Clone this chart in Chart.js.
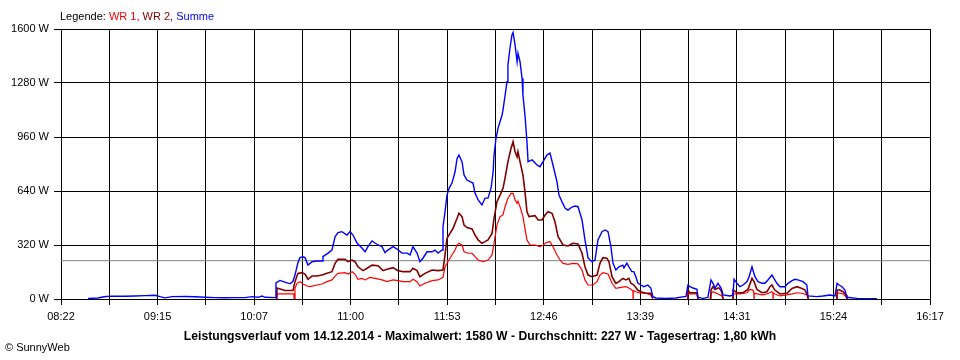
<!DOCTYPE html>
<html><head><meta charset="utf-8">
<script src="https://cdn.jsdelivr.net/npm/chart.js@4/dist/chart.umd.min.js"></script>
<style>
html,body{margin:0;padding:0;background:#fff;}
#wrap{position:relative;width:960px;height:360px;overflow:hidden;}
#c{position:absolute;left:0;top:0;}
.t{position:absolute;font-family:"Liberation Sans",Arial,sans-serif;font-size:11px;line-height:13px;white-space:nowrap;color:#000;}
</style></head><body>
<div id="wrap">
<canvas id="c" width="960" height="360"></canvas>
<div class="t" style="left:60px;top:10px;">Legende: <span style="color:#ff0000">WR 1,</span> <span style="color:#800000">WR 2,</span> <span style="color:#0000ff">Summe</span></div>
<div class="t" style="left:0;top:329px;width:960px;text-align:center;font-weight:bold;font-size:12.2px;line-height:15px;">Leistungsverlauf vom 14.12.2014 - Maximalwert: 1580 W - Durchschnitt: 227 W - Tagesertrag: 1,80 kWh</div>
<div class="t" style="left:5px;top:341px;">© SunnyWeb</div>
</div>
<script>
// x values: minutes since midnight
const xTickLabels = ['08:22','09:15','10:07','11:00','11:53','12:46','13:39','14:31','15:24','16:17'];
const xStart = 502, xEnd = 977;
const avgW = 227;

const sumTime = [
516.8,522.2,525.5,528.8,537.0,542.4,547.9,553.4,556.1,558.8,
562.7,569.8,575.2,580.7,586.2,591.6,597.1,602.6,606.4,609.7,
611.9,613.5,619.0,619.5,621.7,624.4,627.2,628.8,629.9,630.5,
631.5,632.6,634.3,635.4,637.0,639.2,641.9,644.7,645.2,648.0,
650.1,651.8,653.4,655.6,658.3,660.0,661.6,663.8,666.5,668.2,
669.8,672.0,673.6,675.3,677.5,679.1,680.7,683.5,685.7,688.4,
691.2,692.8,694.4,696.6,698.2,699.9,702.1,704.8,706.4,708.1,
710.3,710.8,711.9,713.0,714.1,715.7,717.4,718.5,719.5,721.2,
722.3,723.9,725.6,727.2,728.3,730.0,732.1,733.8,735.4,737.1,
738.2,738.7,739.8,740.9,743.1,743.6,745.8,746.3,747.4,748.5,
749.1,750.2,751.3,751.8,752.9,754.0,754.5,755.6,756.7,757.3,
759.5,762.2,763.8,765.5,767.6,769.3,770.9,773.1,774.2,775.8,
777.5,779.1,781.3,783.0,784.6,786.8,788.4,790.1,792.2,793.9,
795.5,797.7,799.4,801.0,802.6,803.7,805.3,807.0,809.1,809.7,
811.3,812.4,814.0,815.1,816.2,817.3,818.9,820.6,822.8,824.4,
825.5,827.2,832.6,838.1,842.5,843.6,844.7,845.8,847.5,849.6,
850.2,852.9,855.6,857.3,858.4,859.5,861.1,862.8,863.9,867.7,
869.3,869.9,871.5,873.1,874.8,877.0,878.1,879.7,880.2,881.3,
883.0,885.2,886.8,888.4,890.6,891.7,893.3,895.0,897.7,899.4,
901.6,903.2,904.8,907.6,909.7,910.3,915.2,918.5,922.3,925.1,
926.2,927.3,928.9,930.5,931.6,937.1,944.2,948.0];
const sumW = [
3,6,13,17,16,18,20,22,14,7,
14,15,13,10,8,7,8,8,14,10,
18,10,8,95,110,100,90,105,142,170,
215,245,250,245,201,221,225,225,251,272,
290,369,393,399,379,399,379,332,302,280,
310,344,332,320,310,275,290,310,296,272,
272,261,310,272,221,243,280,280,290,272,
290,428,517,616,656,687,754,833,853,814,
735,705,695,687,628,587,557,598,598,658,
754,853,954,1013,1090,1120,1288,1387,1486,1565,
1580,1505,1406,1456,1406,1308,1209,1090,932,814,
824,794,784,814,853,865,794,695,616,577,
539,527,545,551,547,468,350,243,221,231,
350,399,409,399,310,213,172,191,201,184,
213,191,162,162,132,95,83,73,83,65,
14,6,3,6,14,14,83,73,65,57,
10,4,10,113,93,65,93,65,24,18,
24,117,93,73,83,103,132,191,172,132,
103,93,93,113,142,122,93,73,73,93,
109,117,113,103,83,18,14,18,24,18,
93,83,73,53,10,4,2,2];

const wr2Time = [
619.9,620.1,624.4,628.8,629.9,631.5,633.7,635.4,637.0,639.2,
641.9,644.7,647.4,650.1,651.8,653.4,657.2,658.9,661.1,662.7,
664.3,667.1,669.3,672.0,675.3,678.0,680.2,683.5,686.2,689.0,
692.8,694.4,696.6,698.2,701.0,704.8,708.1,710.8,711.9,713.0,
714.6,716.3,718.5,719.5,721.2,722.3,723.9,726.7,728.3,730.0,
732.1,733.8,735.4,737.6,738.7,740.3,742.0,743.6,744.7,746.3,
748.0,749.1,750.2,751.3,751.8,752.9,754.5,755.6,756.7,757.8,
761.1,762.8,764.9,766.6,768.2,770.4,772.0,773.7,774.8,776.4,
779.1,781.8,784.6,786.8,788.4,790.1,792.2,795.0,796.6,798.2,
800.4,801.5,803.2,805.3,807.0,809.1,810.8,812.4,813.5,815.1,
817.3,818.9,821.7,824.4,825.5,825.6,844.6,844.7,845.8,849.6,
850.2,850.3,857.2,857.3,858.4,859.5,861.1,861.7,862.8,863.3,
863.9,864.0,869.3,869.4,871.5,874.8,877.5,879.7,880.8,882.4,
885.2,887.9,889.5,890.6,892.2,895.0,898.8,901.6,904.3,907.0,
908.7,910.3,910.4,910.5,926.1,926.2,927.3,929.5,931.1,931.6];
const wr2W = [
0,65,50,50,103,152,156,148,117,136,
136,142,152,162,211,235,235,221,231,221,
191,168,182,201,197,168,176,186,168,162,
162,182,168,132,152,172,168,172,261,360,
389,419,478,508,488,438,423,415,379,350,
330,340,350,389,478,577,616,656,715,814,
893,932,873,843,873,814,735,636,517,488,
494,468,468,498,517,508,458,369,350,320,
314,330,326,271,191,142,132,142,211,245,
241,221,132,93,103,122,113,122,93,83,
53,43,34,34,4,null,0,53,37,37,
0,null,0,53,73,57,65,65,50,34,
0,null,0,53,37,37,57,122,103,57,
37,43,73,83,53,30,34,63,73,63,
53,14,0,null,0,53,55,43,24,0];

const wr1Time = [
620.0,620.1,628.8,629.3,629.4,629.9,631.0,632.6,634.3,636.5,
638.1,641.9,644.7,647.4,650.1,651.8,653.4,657.2,658.9,661.1,
662.7,664.3,666.5,668.2,670.9,673.6,677.5,680.2,683.5,686.2,
689.0,692.8,694.4,696.6,698.2,701.0,704.8,708.1,710.8,711.9,
713.5,715.7,717.4,718.5,719.5,721.2,722.3,724.5,726.7,728.3,
730.0,732.7,735.4,737.6,738.7,740.3,742.0,743.6,744.7,746.3,
748.0,749.1,750.2,751.3,751.8,752.9,754.5,755.6,756.7,758.4,
761.1,763.8,765.5,767.6,769.3,770.9,773.1,774.8,776.4,779.1,
781.8,784.6,786.8,788.4,790.1,792.8,795.0,796.6,798.2,801.0,
803.2,805.3,808.1,810.8,812.4,814.6,814.7,814.8,816.2,818.9,
821.7,824.4,825.5,825.6,844.6,844.7,849.6,850.2,850.3,856.7,
857.3,858.4,861.1,863.3,863.9,864.0,869.3,869.4,873.1,877.0,
878.6,880.2,880.7,880.8,880.9,882.4,885.2,887.9,890.6,891.1,
891.2,891.3,892.2,895.0,898.8,901.6,904.3,907.0,909.7,910.3,
910.4,926.2,926.3,929.5,931.1,931.6];
const wr1W = [
0,30,30,30,0,63,93,103,89,77,
73,83,89,103,113,136,152,156,148,162,
148,117,122,113,128,122,113,103,113,109,
103,103,117,103,77,93,109,113,128,191,
221,261,290,320,330,320,280,271,271,251,
231,221,231,261,330,438,488,498,547,597,
626,626,587,567,580,547,488,419,350,320,
320,310,320,336,340,310,261,231,211,205,
211,208,172,113,83,83,103,142,156,148,
93,63,69,73,65,49,0,49,43,34,
34,24,0,null,0,30,30,0,null,0,
34,43,30,18,0,null,0,30,30,37,
57,53,40,0,35,30,24,30,43,40,
0,35,30,18,24,30,37,34,24,0,
null,0,37,30,14,0];

const pts = (t, v) => t.map((x, i) => ({x: x, y: v[i]}));
const FONT = {family: '"Liberation Sans", Arial, sans-serif', size: 11};

new Chart(document.getElementById('c'), {
  type: 'line',
  data: {
    datasets: [
      {label: 'Summe', data: pts(sumTime, sumW), borderColor: '#0000ff', borderWidth: 1.4, order: 1},
      {label: 'WR 2', data: pts(wr2Time, wr2W), borderColor: '#800000', borderWidth: 1.6, order: 2},
      {label: 'WR 1', data: pts(wr1Time, wr1W), borderColor: '#ff0000', borderWidth: 1.2, order: 3},
      {label: 'Durchschnitt', data: [{x: xStart, y: avgW}, {x: xEnd, y: avgW}], borderColor: '#808080', borderWidth: 1, order: 4}
    ]
  },
  options: {
    responsive: false,
    animation: false,
    events: [],
    layout: {padding: {left: 0, right: 30, top: 29, bottom: 0}},
    elements: {point: {radius: 0}, line: {tension: 0, borderJoinStyle: 'miter'}},
    datasets: {line: {spanGaps: false, fill: false}},
    plugins: {legend: {display: false}, tooltip: {enabled: false}},
    scales: {
      x: {
        type: 'linear', min: xStart, max: xEnd,
        afterFit: s => { s.height = 61; },
        afterBuildTicks: s => { s.ticks = Array.from({length: 19}, (_, i) => ({value: xStart + i * (xEnd - xStart) / 18})); },
        grid: {color: '#000', lineWidth: 1, tickLength: 6, drawTicks: true},
        border: {color: '#000', width: 1},
        ticks: {autoSkip: false, maxRotation: 0, padding: 5, color: '#000', font: FONT,
          callback: (v, i) => (i % 2 === 0 ? xTickLabels[i / 2] : '')}
      },
      y: {
        min: 0, max: 1600,
        afterFit: s => { s.width = 61; },
        grid: {color: '#000', lineWidth: 1, tickLength: 7, drawTicks: true},
        border: {color: '#000', width: 1},
        ticks: {stepSize: 320, padding: 5, color: '#000', font: FONT, callback: v => v + ' W'}
      }
    }
  }
});
</script>
</body></html>
